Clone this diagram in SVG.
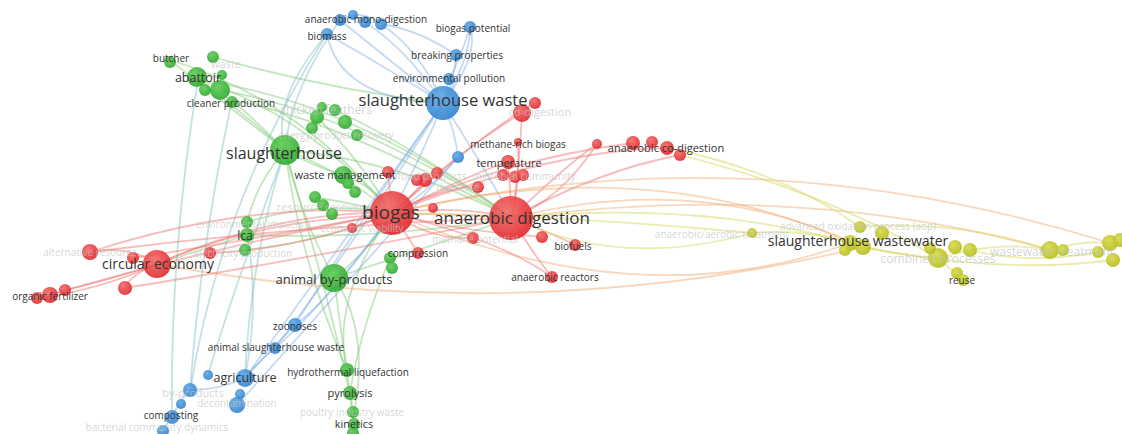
<svg xmlns="http://www.w3.org/2000/svg" width="1122" height="434" viewBox="0 0 1122 434">
<defs>
<radialGradient id="gr" cx="40%" cy="35%" r="65%"><stop offset="0" stop-color="#f26a68"/><stop offset="1" stop-color="#e2282d"/></radialGradient>
<radialGradient id="gg" cx="40%" cy="35%" r="65%"><stop offset="0" stop-color="#5fcc56"/><stop offset="1" stop-color="#2fa82f"/></radialGradient>
<radialGradient id="gb" cx="40%" cy="35%" r="65%"><stop offset="0" stop-color="#62a8e6"/><stop offset="1" stop-color="#2f82cf"/></radialGradient>
<radialGradient id="gy" cx="40%" cy="35%" r="65%"><stop offset="0" stop-color="#d6da4a"/><stop offset="1" stop-color="#b6bc1c"/></radialGradient>
<style>
.e path{fill:none;stroke-width:1.8;stroke-linecap:round}
.eg{stroke:#7cc872;stroke-opacity:.45}
.et{stroke:#8cc3c8;stroke-opacity:.5}
.eb{stroke:#7eaee2;stroke-opacity:.45}
.er{stroke:#ef7a78;stroke-opacity:.5}
.eo{stroke:#f2a66a;stroke-opacity:.45}
.ey{stroke:#d8da6a;stroke-opacity:.55}
.r circle{fill:url(#gr);fill-opacity:.9}
.g circle{fill:url(#gg);fill-opacity:.9}
.b circle{fill:url(#gb);fill-opacity:.9}
.y circle{fill:url(#gy);fill-opacity:.9}
text{font-family:"Open Sans","Liberation Sans",sans-serif;text-anchor:middle;fill:#333}
.f{fill:#c4c4c4;fill-opacity:.7}
.s{font-size:10px}
.m{font-size:12px}
</style>
</defs>
<rect width="1122" height="434" fill="#fff"/>
<g id="connectors" class="e">
<!-- green -->
<path class="eg" d="M285,150 Q240,110 198,80"/>
<path class="eg" d="M285,150 Q220,100 170,60"/>
<path class="eg" d="M285,150 Q255,120 232,100"/>
<path class="eg" d="M285,150 Q310,165 343,175"/>
<path class="eg" d="M285,150 Q300,215 334,278"/>
<path class="eg" d="M285,150 Q255,185 247,223"/>
<path class="eg" d="M285,150 Q340,170 392,213"/>
<path class="eg" d="M285,150 Q400,160 512,218"/>
<path class="eg" d="M198,80 Q300,110 392,213"/>
<path class="eg" d="M198,80 Q350,100 512,218"/>
<path class="eg" d="M220,90 Q360,115 512,218"/>
<path class="eg" d="M232,100 Q340,120 512,218"/>
<path class="eg" d="M170,60 Q300,100 392,213"/>
<path class="eg" d="M213,57 Q330,90 443,103"/>
<path class="eg" d="M334,278 Q340,325 347,370"/>
<path class="eg" d="M347,370 Q348,380 350,393"/>
<path class="eg" d="M350,393 L354,432"/>
<path class="eg" d="M334,278 Q370,250 392,213"/>
<path class="eg" d="M334,278 Q420,250 512,218"/>
<path class="eg" d="M247,235 Q200,250 157,264"/>
<path class="eg" d="M343,175 Q380,190 392,213"/>
<path class="eg" d="M317,117 Q360,160 392,213"/>
<path class="eg" d="M335,110 Q420,150 512,218"/>
<path class="eg" d="M285,150 Q300,260 347,370"/>
<path class="eg" d="M285,150 Q330,300 354,413"/>
<path class="eg" d="M334,278 Q370,330 354,413"/>
<path class="eg" d="M392,213 Q330,300 347,370"/>
<path class="eg" d="M390,258 Q360,330 350,393"/>
<path class="eg" d="M315,197 Q360,205 392,213"/>
<path class="eg" d="M247,222 Q320,200 392,213"/>
<path class="eg" d="M245,250 Q330,240 392,213"/>
<path class="eg" d="M247,235 Q380,240 512,218"/>
<path class="et" d="M247,235 Q260,300 245,378"/>
<path class="et" d="M232,100 Q200,250 190,392"/>
<path class="et" d="M198,80 Q170,250 172,417"/>
<path class="et" d="M327,34 Q270,100 285,150"/>
<path class="et" d="M327,34 Q220,200 190,392"/>
<path class="et" d="M285,150 Q250,260 245,378"/>
<path class="et" d="M285,150 Q230,300 208,375"/>
<path class="et" d="M340,20 Q290,90 285,150"/>
<!-- blue -->
<path class="eb" d="M443,103 Q390,60 340,20"/>
<path class="eb" d="M443,103 Q400,40 353,15"/>
<path class="eb" d="M443,103 Q420,50 381,24"/>
<path class="eb" d="M443,103 Q390,70 327,34"/>
<path class="eb" d="M443,103 Q470,60 470,27"/>
<path class="eb" d="M443,103 Q480,55 470,27"/>
<path class="eb" d="M443,103 Q455,80 456,55"/>
<path class="eb" d="M443,103 L449,79"/>
<path class="eb" d="M443,103 Q455,130 458,157"/>
<path class="eb" d="M443,103 Q420,160 392,213"/>
<path class="eb" d="M443,103 Q480,160 512,218"/>
<path class="eb" d="M443,103 Q360,220 295,325"/>
<path class="eb" d="M443,103 Q350,250 275,348"/>
<path class="eb" d="M443,103 Q330,260 245,378"/>
<path class="eb" d="M340,20 Q360,8 381,24"/>
<path class="eb" d="M381,24 Q420,30 456,55"/>
<path class="eb" d="M458,157 Q420,200 392,213"/>
<path class="eb" d="M295,325 Q270,350 245,378"/>
<path class="eb" d="M275,348 Q260,360 245,378"/>
<path class="eb" d="M245,378 Q220,390 190,390"/>
<path class="eb" d="M190,390 Q180,400 172,417"/>
<path class="eb" d="M172,417 Q165,425 163,432"/>
<path class="eb" d="M327,34 Q340,100 443,103"/>
<path class="eb" d="M392,213 Q330,300 295,325"/>
<path class="eb" d="M392,213 Q320,310 275,348"/>
<path class="eb" d="M458,157 Q350,280 237,405"/>
<path class="eb" d="M470,27 Q460,60 449,79"/>
<!-- red -->
<path class="er" d="M392,213 Q280,210 157,264"/>
<path class="er" d="M392,213 Q250,200 90,252"/>
<path class="er" d="M392,213 Q250,240 133,258"/>
<path class="er" d="M157,264 Q110,280 65,290"/>
<path class="er" d="M157,264 Q100,290 37,298"/>
<path class="er" d="M157,264 Q130,275 125,288"/>
<path class="er" d="M90,252 Q130,245 157,264"/>
<path class="er" d="M392,213 Q200,250 50,295"/>
<path class="er" d="M512,218 Q300,200 157,264"/>
<path class="er" d="M512,218 Q300,225 90,252"/>
<path class="er" d="M512,218 Q300,260 125,288"/>
<path class="er" d="M392,213 Q300,250 210,253"/>
<path class="er" d="M392,213 Q460,150 522,113"/>
<path class="er" d="M512,218 Q520,160 522,113"/>
<path class="er" d="M392,213 Q500,120 535,103"/>
<path class="er" d="M392,213 Q460,205 512,218"/>
<path class="er" d="M392,213 Q500,160 633,143"/>
<path class="er" d="M512,218 Q600,170 680,155"/>
<path class="er" d="M512,218 Q560,170 597,144"/>
<path class="er" d="M392,213 Q550,150 667,148"/>
<path class="er" d="M512,218 Q545,230 575,245"/>
<path class="er" d="M512,218 Q530,250 552,277"/>
<path class="er" d="M392,213 Q500,240 552,277"/>
<path class="er" d="M392,213 Q410,240 418,253"/>
<path class="er" d="M392,213 Q480,170 508,162"/>
<path class="er" d="M512,218 Q510,190 508,162"/>
<path class="er" d="M392,213 Q450,230 542,237"/>
<path class="er" d="M392,213 Q430,240 473,238"/>
<path class="er" d="M392,213 Q390,190 388,172"/>
<path class="er" d="M392,213 Q420,190 427,175"/>
<path class="er" d="M392,213 Q450,185 478,187"/>
<path class="er" d="M352,228 Q370,220 392,213"/>
<path class="er" d="M597,144 Q560,200 512,218"/>
<path class="er" d="M518,142 Q520,180 512,218"/>
<!-- orange / yellow -->
<path class="eo" d="M392,213 Q650,150 850,243"/>
<path class="eo" d="M512,218 Q700,170 863,247"/>
<path class="eo" d="M512,218 Q800,180 1050,250"/>
<path class="eo" d="M392,213 Q750,130 1110,243"/>
<path class="eo" d="M392,213 Q640,320 850,243"/>
<path class="eo" d="M157,264 Q520,330 863,247"/>
<path class="ey" d="M667,148 Q780,170 860,227"/>
<path class="ey" d="M680,155 Q820,190 938,258"/>
<path class="ey" d="M752,233 Q800,228 850,243"/>
<path class="ey" d="M863,247 Q900,255 938,258"/>
<path class="ey" d="M938,258 Q1000,240 1050,250"/>
<path class="ey" d="M1050,250 Q1080,240 1110,243"/>
<path class="ey" d="M860,227 Q960,220 1050,250"/>
<path class="ey" d="M938,258 Q950,268 960,278"/>
<path class="ey" d="M863,247 Q1000,275 1113,260"/>
<path class="ey" d="M970,250 Q1030,265 1098,252"/>
<path class="ey" d="M752,233 Q620,270 512,218"/>
<path class="ey" d="M752,233 Q560,215 392,213"/>
<path class="ey" d="M850,243 Q700,200 512,218"/>
</g>

<g id="node-green" class="g">
<circle cx="285" cy="150" r="15"/>
<circle cx="197" cy="77" r="10"/>
<circle cx="220" cy="90" r="10"/>
<circle cx="205" cy="90" r="6"/>
<circle cx="170" cy="62" r="6"/>
<circle cx="213" cy="57" r="6"/>
<circle cx="222" cy="75" r="5"/>
<circle cx="232" cy="102" r="6"/>
<circle cx="317" cy="117" r="7"/>
<circle cx="322" cy="107" r="5"/>
<circle cx="335" cy="110" r="6"/>
<circle cx="345" cy="122" r="7"/>
<circle cx="357" cy="135" r="6"/>
<circle cx="312" cy="128" r="6"/>
<circle cx="343" cy="175" r="9"/>
<circle cx="348" cy="183" r="6"/>
<circle cx="355" cy="192" r="6"/>
<circle cx="315" cy="197" r="6"/>
<circle cx="323" cy="205" r="6"/>
<circle cx="332" cy="214" r="6"/>
<circle cx="247" cy="222" r="6"/>
<circle cx="247" cy="235" r="7"/>
<circle cx="245" cy="250" r="6"/>
<circle cx="390" cy="258" r="6"/>
<circle cx="392" cy="268" r="6"/>
<circle cx="334" cy="278" r="14"/>
<circle cx="347" cy="370" r="7"/>
<circle cx="350" cy="393" r="7"/>
<circle cx="353" cy="412" r="6"/>
<circle cx="354" cy="424" r="6"/>
<circle cx="353" cy="433" r="6"/>
</g>

<g id="node-blue" class="b">
<circle cx="443" cy="103" r="17"/>
<circle cx="340" cy="20" r="6"/>
<circle cx="353" cy="15" r="5"/>
<circle cx="365" cy="22" r="6"/>
<circle cx="381" cy="24" r="6"/>
<circle cx="327" cy="34" r="6"/>
<circle cx="470" cy="27" r="6"/>
<circle cx="456" cy="55" r="6"/>
<circle cx="449" cy="79" r="6"/>
<circle cx="458" cy="157" r="6"/>
<circle cx="295" cy="325" r="7"/>
<circle cx="275" cy="348" r="6"/>
<circle cx="245" cy="378" r="9"/>
<circle cx="208" cy="375" r="5"/>
<circle cx="190" cy="390" r="7"/>
<circle cx="181" cy="404" r="5"/>
<circle cx="172" cy="417" r="7"/>
<circle cx="163" cy="431" r="6"/>
<circle cx="237" cy="405" r="8"/>
<circle cx="240" cy="394" r="5"/>
</g>

<g id="node-red" class="r">
<circle cx="392" cy="213" r="22"/>
<circle cx="511" cy="218" r="22"/>
<circle cx="157" cy="264" r="14"/>
<circle cx="90" cy="252" r="8"/>
<circle cx="133" cy="258" r="6"/>
<circle cx="125" cy="288" r="7"/>
<circle cx="37" cy="298" r="6"/>
<circle cx="50" cy="295" r="8"/>
<circle cx="65" cy="290" r="6"/>
<circle cx="210" cy="253" r="6"/>
<circle cx="535" cy="103" r="6"/>
<circle cx="522" cy="113" r="9"/>
<circle cx="518" cy="142" r="4"/>
<circle cx="508" cy="162" r="7"/>
<circle cx="503" cy="175" r="6"/>
<circle cx="515" cy="177" r="6"/>
<circle cx="523" cy="175" r="6"/>
<circle cx="597" cy="144" r="5"/>
<circle cx="633" cy="143" r="7"/>
<circle cx="652" cy="142" r="6"/>
<circle cx="667" cy="148" r="7"/>
<circle cx="680" cy="155" r="6"/>
<circle cx="478" cy="187" r="6"/>
<circle cx="425" cy="180" r="7"/>
<circle cx="437" cy="173" r="6"/>
<circle cx="388" cy="172" r="6"/>
<circle cx="417" cy="180" r="6"/>
<circle cx="352" cy="228" r="5"/>
<circle cx="433" cy="208" r="5"/>
<circle cx="418" cy="253" r="6"/>
<circle cx="473" cy="238" r="6"/>
<circle cx="542" cy="237" r="6"/>
<circle cx="575" cy="245" r="6"/>
<circle cx="552" cy="277" r="6"/>
</g>

<g id="node-yellow" class="y">
<circle cx="752" cy="233" r="5"/>
<circle cx="860" cy="227" r="6"/>
<circle cx="850" cy="243" r="8"/>
<circle cx="863" cy="247" r="8"/>
<circle cx="882" cy="233" r="7"/>
<circle cx="845" cy="250" r="6"/>
<circle cx="938" cy="258" r="10"/>
<circle cx="930" cy="248" r="6"/>
<circle cx="955" cy="247" r="7"/>
<circle cx="970" cy="250" r="7"/>
<circle cx="957" cy="273" r="6"/>
<circle cx="963" cy="280" r="6"/>
<circle cx="1050" cy="250" r="9"/>
<circle cx="1063" cy="250" r="6"/>
<circle cx="1098" cy="252" r="6"/>
<circle cx="1110" cy="243" r="8"/>
<circle cx="1113" cy="260" r="7"/>
<circle cx="1120" cy="240" r="7"/>
</g>

<g id="labels-faded">
<text class="f" x="226" y="68" font-size="11">waste</text>
<text class="f" x="326" y="114" font-size="12">chicken feathers</text>
<text class="f" x="336" y="139" font-size="10">energy/product recovery</text>
<text class="f" x="323" y="211" font-size="11">resource recovery</text>
<text class="f" x="250" y="228" font-size="10">environmental impacts</text>
<text class="f" x="243" y="257" font-size="10">electricity production</text>
<text class="f" x="362" y="232" font-size="10">economic viability</text>
<text class="f" x="90" y="256" font-size="10">alternative resource</text>
<text class="f" x="540" y="116" font-size="11">co-digestion</text>
<text class="f" x="432" y="180" font-size="10.5">food products</text>
<text class="f" x="458" y="191" font-size="10">digestate</text>
<text class="f" x="524" y="180" font-size="10.5">microbial community</text>
<text class="f" x="475" y="243" font-size="10">methane potential</text>
<text class="f" x="722" y="238" font-size="10">anaerobic/aerobic treatment</text>
<text class="f" x="858" y="230" font-size="10">advanced oxidation process (aop)</text>
<text class="f" x="938" y="263" font-size="12">combined processes</text>
<text class="f" x="1052" y="256" font-size="12">wastewater treatment</text>
<text class="f" x="193" y="397" font-size="11">by-products</text>
<text class="f" x="237" y="407" font-size="10">decontamination</text>
<text class="f" x="352" y="416" font-size="10">poultry industry waste</text>
<text class="f" x="157" y="431" font-size="10">bacterial community dynamics</text>
</g>

<g id="labels">
<text x="443" y="106" font-size="16.5">slaughterhouse waste</text>
<text class="s" x="366" y="23">anaerobic mono-digestion</text>
<text class="s" x="327" y="40">biomass</text>
<text class="s" x="473" y="32">biogas potential</text>
<text class="s" x="457" y="59">breaking properties</text>
<text class="s" x="449" y="82">environmental pollution</text>
<text class="s" x="295" y="330">zoonoses</text>
<text class="s" x="276" y="351">animal slaughterhouse waste</text>
<text x="245" y="382" font-size="12.5">agriculture</text>
<text class="s" x="171" y="419">composting</text>
<text x="284" y="159" font-size="16">slaughterhouse</text>
<text x="198" y="82" font-size="12.5">abattoir</text>
<text class="s" x="171" y="62">butcher</text>
<text class="s" x="231" y="107">cleaner production</text>
<text x="345" y="179" font-size="11">waste management</text>
<text class="m" x="245" y="240">lca</text>
<text x="334" y="284" font-size="13">animal by-products</text>
<text class="s" x="348" y="376">hydrothermal liquefaction</text>
<text x="350" y="397" font-size="11">pyrolysis</text>
<text x="354" y="428" font-size="11">kinetics</text>
<text x="391" y="219" font-size="19">biogas</text>
<text x="512" y="224" font-size="17">anaerobic digestion</text>
<text x="158" y="269" font-size="14">circular economy</text>
<text class="s" x="50" y="300">organic fertilizer</text>
<text class="s" x="518" y="148">methane-rich biogas</text>
<text x="666" y="152" font-size="11">anaerobic co-digestion</text>
<text x="509" y="167" font-size="11">temperature</text>
<text class="s" x="418" y="257">compression</text>
<text class="s" x="573" y="250">biofuels</text>
<text class="s" x="555" y="281">anaerobic reactors</text>
<text x="858" y="246" font-size="14">slaughterhouse wastewater</text>
<text class="s" x="962" y="284">reuse</text>
</g>
</svg>
